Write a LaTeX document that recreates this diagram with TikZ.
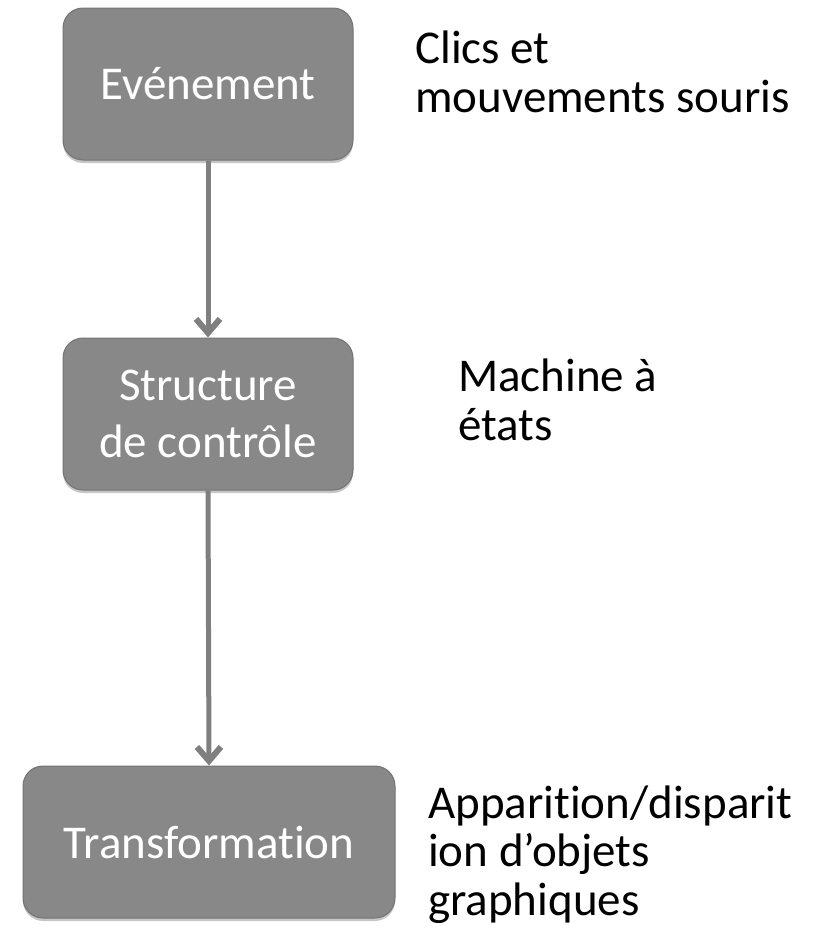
\documentclass[tikz,border=0pt]{standalone}
\usepackage{fontspec}
\setmainfont{Carlito}[RawFeature={-liga;-clig;-calt;-dlig;-rlig}]
\usetikzlibrary{arrows.meta,shadows}
\definecolor{boxfill}{HTML}{888888}
\definecolor{boxedge}{HTML}{737373}
\definecolor{linkgray}{HTML}{7F7F7F}
\tikzset{
  stepbox/.style={rectangle, rounded corners=20pt, fill=boxfill, draw=boxedge,
    line width=1pt, text=white, align=center,
    font=\fontsize{47}{57}\selectfont, inner sep=0pt,
    drop shadow={shadow xshift=0pt, shadow yshift=-3pt, opacity=0.45}},
  note/.style={anchor=base west, align=left, inner sep=0pt, text=black,
    font=\fontsize{47}{48.5}\selectfont},
  link/.style={draw=linkgray, line width=5pt,
    -{Straight Barb[length=14pt,width=24pt,line width=6pt]}}
}
\begin{document}
\begin{tikzpicture}[x=1pt,y=-1pt]
  \useasboundingbox (0,0) rectangle (814,946);

  % flow boxes
  \node[stepbox, minimum width=290pt, minimum height=152pt] (evt) at (208,84) {Evénement};
  \node[stepbox, minimum width=290pt, minimum height=152pt] (ctrl) at (208,414) {Structure\\de contrôle};
  \node[stepbox, minimum width=372pt, minimum height=152pt] (trans) at (209,842) {Transformation};

  % connectors
  \draw[link] (evt.south) -- (ctrl.north);
  \draw[link] (ctrl.south) -- (trans.north);

  % side notes (anchored on the baseline of their last line)
  \node[note] (n1) at (415,112) {Clics et\\mouvements souris};
  \node[note] (n2) at (458,440) {Machine à\\états};
  \node[note] (n3) at (428,915) {Apparition/disparit\\ion d’objets\\graphiques};
\end{tikzpicture}
\end{document}
